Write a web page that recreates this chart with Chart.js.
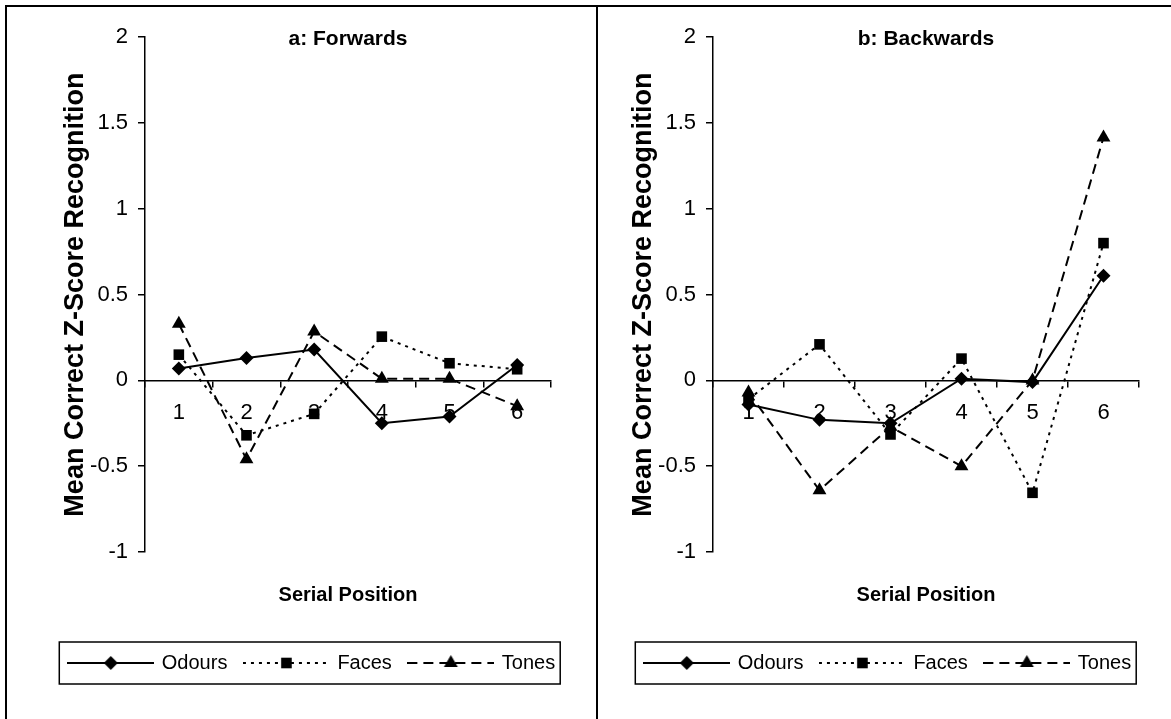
<!DOCTYPE html>
<html>
<head>
<meta charset="utf-8">
<script src="https://cdn.jsdelivr.net/npm/chart.js@4.4.1/dist/chart.umd.min.js"></script>
<style>
  html, body { margin: 0; padding: 0; background: #fff; }
  body { width: 1171px; height: 719px; position: relative; overflow: hidden; }
  #frame { position: absolute; left: 5px; top: 5px; width: 1200px; height: 800px;
           border-left: 2px solid #000; border-top: 2px solid #000; }
  #divider { position: absolute; left: 596px; top: 5px; width: 2px; height: 720px; background: #000; }
  canvas { position: absolute; }
  #forwards { left: 7px; top: 7px; }
  #backwards { left: 599px; top: 7px; }
</style>
</head>
<body>
<div id="frame"></div>
<div id="divider"></div>
<canvas id="forwards" width="590" height="712"></canvas>
<canvas id="backwards" width="572" height="712"></canvas>
<script>
// Serial positions (x categories)
const posities = ['1', '2', '3', '4', '5', '6'];
const seriesNames = ['Odours', 'Faces', 'Tones'];

// a: Forwards
const forwardsOdours = [0.07, 0.13, 0.18, -0.25, -0.21, 0.09];
const forwardsFaces = [0.15, -0.32, -0.195, 0.255, 0.10, 0.065];
const forwardsTones = [0.33, -0.46, 0.285, 0.01, 0.01, -0.15];

// b: Backwards
const backwardsOdours = [-0.14, -0.23, -0.25, 0.01, -0.01, 0.61];
const backwardsFaces = [-0.11, 0.21, -0.315, 0.127, -0.655, 0.80];
const backwardsTones = [-0.07, -0.64, -0.27, -0.50, 0.0, 1.416];

const yTicks = { min: -1, max: 2, step: 0.5 };

const FONT = '"Liberation Sans", Arial, Helvetica, sans-serif';
Chart.defaults.font.family = FONT;
Chart.defaults.color = '#000';

// stil per serie: linie + marker
const stiluri = [
  { dash: [], point: 'rectRot', radius: 7 },
  { dash: [3, 5], point: 'rect', radius: 7.5 },
  { dash: [10, 6], point: 'triangle', radius: 8 }
];

const MOSTRA_W = 87;   // lungimea mostrei desenate
const BOX_W = 82;      // latimea rezervata in legenda
const LEG_PAD = 18;

// mostra de legenda: linie cu marker la mijloc
function mostraLegenda(stil) {
  const c = document.createElement('canvas');
  c.width = MOSTRA_W;
  c.height = 20;
  const g = c.getContext('2d');
  g.strokeStyle = '#000';
  g.lineWidth = 2;
  g.setLineDash(stil.dash);
  g.beginPath();
  g.moveTo(0, 10);
  g.lineTo(MOSTRA_W, 10);
  g.stroke();
  g.setLineDash([]);
  g.fillStyle = '#000';
  Chart.helpers.drawPoint(g, { pointStyle: stil.point, radius: stil.radius, borderWidth: 0, rotation: 0 }, MOSTRA_W / 2, 10);
  return c;
}
const mostre = stiluri.map(mostraLegenda);

// chenar in jurul legendei
const chenarLegenda = {
  id: 'chenarLegenda',
  afterDraw(chart) {
    const boxes = chart.legend && chart.legend.legendHitBoxes;
    if (!boxes || !boxes.length) return;
    const first = boxes[0];
    const last = boxes[boxes.length - 1];
    const x0 = first.left - (MOSTRA_W - BOX_W) / 2 - 8;
    const x1 = last.left + last.width + 5;
    const ctx = chart.ctx;
    ctx.save();
    ctx.strokeStyle = '#000';
    ctx.lineWidth = 1.5;
    ctx.setLineDash([]);
    ctx.strokeRect(x0, first.top - 11, x1 - x0, first.height + 22);
    ctx.restore();
  }
};

function randeazaPanou(canvas, titlu, valori, geo) {
  const datasets = valori.map((v, i) => ({
    label: seriesNames[i],
    data: v,
    borderColor: '#000',
    backgroundColor: '#000',
    borderWidth: 2,
    borderDash: stiluri[i].dash,
    pointStyle: stiluri[i].point,
    pointRadius: stiluri[i].radius,
    pointBackgroundColor: '#000',
    pointBorderColor: '#000',
    pointBorderWidth: 0,
    tension: 0,
    fill: false,
    clip: false
  }));

  return new Chart(canvas, {
    type: 'line',
    data: { labels: posities, datasets },
    plugins: [chenarLegenda],
    options: {
      responsive: false,
      animation: false,
      layout: { padding: { left: geo.padLeft, right: 0, top: 0, bottom: 36 } },
      plugins: {
        tooltip: { enabled: false },
        title: {
          display: true,
          text: titlu,
          fullSize: false,
          color: '#000',
          font: { size: 21, weight: 'bold' },
          padding: { top: 20, bottom: -15 }
        },
        legend: {
          position: 'bottom',
          labels: {
            usePointStyle: true,
            pointStyleWidth: BOX_W,
            padding: LEG_PAD,
            color: '#000',
            font: { size: 20 },
            generateLabels: (chart) =>
              Chart.defaults.plugins.legend.labels.generateLabels(chart).map((l, i) => ({
                ...l,
                pointStyle: mostre[i],
                lineDash: []
              }))
          }
        }
      },
      scales: {
        y: {
          min: yTicks.min,
          max: yTicks.max,
          afterFit: (scale) => { scale.width = geo.yWidth; },
          ticks: {
            stepSize: yTicks.step,
            padding: 10,
            color: '#000',
            font: { size: 22 },
            callback: (v) => String(Math.round(v * 10) / 10)
          },
          grid: { drawOnChartArea: false, drawTicks: true, tickLength: 7, color: '#000', lineWidth: 1.5 },
          border: { display: true, color: '#000', width: 1.5 },
          title: {
            display: true,
            text: 'Mean Correct Z-Score Recognition',
            color: '#000',
            font: { size: 27, weight: 'bold' },
            padding: { top: geo.titlePad, bottom: 0 }
          }
        },
        // axa goala in dreapta, doar ca sa rezerve spatiu
        yR: {
          type: 'linear',
          position: 'right',
          afterFit: (scale) => { scale.width = geo.rightGap; },
          ticks: { display: false },
          grid: { display: false, drawTicks: false },
          border: { display: false }
        },
        x: {
          position: { y: 0 },
          offset: true,
          ticks: { padding: 13, color: '#000', font: { size: 22 }, maxRotation: 0 },
          grid: { offset: true, drawOnChartArea: false, drawTicks: true, tickLength: 6, color: '#000', lineWidth: 1.5 },
          border: { display: true, color: '#000', width: 1.5 }
        },
        x2: {
          type: 'category',
          labels: posities,
          position: 'bottom',
          ticks: { display: false },
          grid: { display: false, drawTicks: false },
          border: { display: false },
          title: {
            display: true,
            text: 'Serial Position',
            color: '#000',
            font: { size: 20, weight: 'bold' },
            padding: { top: 31, bottom: 28 }
          }
        }
      }
    }
  });
}

randeazaPanou(document.getElementById('forwards'), 'a: Forwards',
  [forwardsOdours, forwardsFaces, forwardsTones],
  { padLeft: 21, yWidth: 117, titlePad: 31, rightGap: 46 });

randeazaPanou(document.getElementById('backwards'), 'b: Backwards',
  [backwardsOdours, backwardsFaces, backwardsTones],
  { padLeft: 7, yWidth: 107, titlePad: 21, rightGap: 32 });
</script>
</body>
</html>
